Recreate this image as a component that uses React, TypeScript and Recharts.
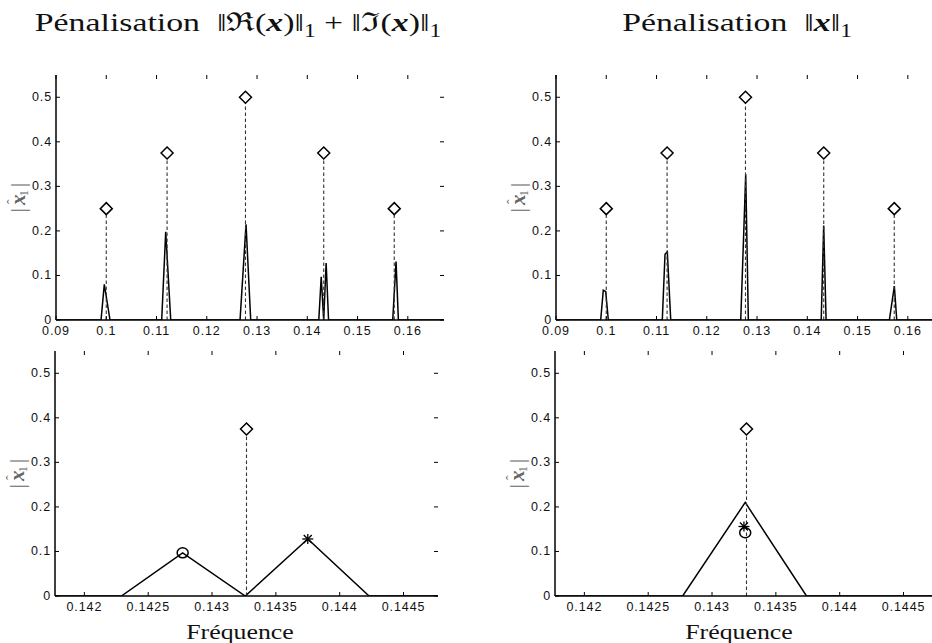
import React from "react";
import { LineChart, Line, XAxis, YAxis } from "recharts";

// true components (diamonds + dashed stems)
const trueFreq = [0.1, 0.1121, 0.1277, 0.14327, 0.1573];
const trueAmp = [0.25, 0.375, 0.5, 0.375, 0.25];

// estimate with ||Re(x)||_1 + ||Im(x)||_1 penalty
const reimFreq = [0.09, 0.09896, 0.09961, 0.10075, 0.11103, 0.11183, 0.11283, 0.12662, 0.12781, 0.12874, 0.14229, 0.14277, 0.14326, 0.14375, 0.14423, 0.157, 0.15766, 0.15812, 0.1672];
const reimAmp = [0, 0, 0.08, 0, 0, 0.198, 0, 0, 0.215, 0, 0, 0.097, 0, 0.128, 0, 0, 0.131, 0, 0];

// estimate with ||x||_1 penalty
const l1Freq = [0.09, 0.09889, 0.09941, 0.09989, 0.10041, 0.11115, 0.11169, 0.11215, 0.11283, 0.12676, 0.12775, 0.12827, 0.14277, 0.14326, 0.14374, 0.15633, 0.15732, 0.1578, 0.1672];
const l1Amp = [0, 0, 0.067, 0.064, 0, 0, 0.1475, 0.153, 0, 0, 0.327, 0, 0, 0.212, 0, 0, 0.076, 0, 0];

// zoom around the 4th component
const reimZoomFreq = [0.14177, 0.14229, 0.14277, 0.14326, 0.14375, 0.14423, 0.14477];
const reimZoomAmp = [0, 0, 0.097, 0, 0.128, 0, 0];
const l1ZoomFreq = [0.14177, 0.14277, 0.14326, 0.14374, 0.14477];
const l1ZoomAmp = [0, 0, 0.21, 0, 0];

const reimCircleFreq = [0.14277];
const reimCircleAmp = [0.097];
const reimStarFreq = [0.14375];
const reimStarAmp = [0.128];
const l1CircleFreq = [0.14326];
const l1CircleAmp = [0.142];
const l1StarFreq = [0.14325];
const l1StarAmp = [0.156];

const wideTicks = [0.09, 0.1, 0.11, 0.12, 0.13, 0.14, 0.15, 0.16];
const zoomTicks = [0.142, 0.1425, 0.143, 0.1435, 0.144, 0.1445];
const ampTicks = [0, 0.1, 0.2, 0.3, 0.4, 0.5];
const wideDomain = [0.09, 0.1672];
const zoomDomain = [0.14177, 0.14477];
const ampDomain = [0, 0.55];

type Pt = { x: number; y: number | null };
const zip = (xs: number[], ys: number[]): Pt[] => xs.map((x, i) => ({ x, y: ys[i] }));
const stemPts = (xs: number[], ys: number[]): Pt[] =>
  xs.flatMap((x, i) => [{ x, y: 0 }, { x, y: ys[i] }, { x, y: null }]);

const tickFont: React.CSSProperties = { fontFamily: "Liberation Sans, Arial, sans-serif", fontSize: 12.5, letterSpacing: 0.9 };
const frame = { stroke: "#000", strokeWidth: 1.5 };

const XTick = (props: any) => {
  const { x, y, payload, plotH } = props;
  return (
    <g>
      <line x1={x} y1={y} x2={x} y2={y - 4} stroke="#000" strokeWidth={1} />
      <line x1={x} y1={y - plotH} x2={x} y2={y - plotH + 4} stroke="#000" strokeWidth={1} />
      <text x={x} y={y + 14.5} textAnchor="middle" fill="#111" style={tickFont}>{payload.value}</text>
    </g>
  );
};

const YTick = (props: any) => {
  const { x, y, payload, plotW } = props;
  return (
    <g>
      <line x1={x} y1={y} x2={x + 4} y2={y} stroke="#000" strokeWidth={1} />
      <line x1={x + plotW} y1={y} x2={x + plotW - 4} y2={y} stroke="#000" strokeWidth={1} />
      <text x={x - 4} y={y + 4} textAnchor="end" fill="#111" style={tickFont}>{payload.value}</text>
    </g>
  );
};

// |x^_1| rotated, like the matlab ylabel
const YLabel = (props: any) => {
  const vb = props.viewBox || {};
  const cx = vb.x + vb.width - 37;
  const cy = vb.y + vb.height / 2;
  return (
    <text x={cx} y={cy + 6} transform={`rotate(-90 ${cx} ${cy})`} textAnchor="middle" fill="#666"
      style={{ fontFamily: "Liberation Serif, serif", fontSize: 21 }}>
      |<tspan dx={3} fontWeight="bold" fontStyle="italic">x</tspan>
      <tspan dx={-9.5} dy={-8} fontSize={14}>ˆ</tspan>
      <tspan dx={3} dy={11} fontSize={13}>1</tspan>
      <tspan dx={3} dy={-3}>|</tspan>
    </text>
  );
};

const diamond = (p: any) => (
  <path key={`d${p.index}`} d={`M${p.cx},${p.cy - 6}L${p.cx + 6},${p.cy}L${p.cx},${p.cy + 6}L${p.cx - 6},${p.cy}Z`}
    fill="#fff" stroke="#000" strokeWidth={1.5} />
);
const circle = (p: any) => (
  <ellipse key={`c${p.index}`} cx={p.cx} cy={p.cy} rx={5.5} ry={5} fill="none" stroke="#000" strokeWidth={1.5} />
);
const star = (p: any) => (
  <g key={`s${p.index}`} stroke="#000" strokeWidth={1.3}>
    <line x1={p.cx - 5.5} y1={p.cy} x2={p.cx + 5.5} y2={p.cy} />
    <line x1={p.cx} y1={p.cy - 5} x2={p.cx} y2={p.cy + 5} />
    <line x1={p.cx - 4} y1={p.cy - 4} x2={p.cx + 4} y2={p.cy + 4} />
    <line x1={p.cx - 4} y1={p.cy + 4} x2={p.cx + 4} y2={p.cy - 4} />
  </g>
);

const W = 960;
const H = 643;
const YW = 40;
const XH = 30;

function Panel({ l, r, t, b, domain, ticks, curve, circles, stars }: any) {
  const inDom = (p: Pt) => p.x >= domain[0] && p.x <= domain[1];
  const dia = zip(trueFreq, trueAmp).filter(inDom);
  const stems = stemPts(dia.map((p) => p.x), dia.map((p) => p.y as number));
  return (
    <div style={{ position: "absolute", left: 0, top: 0 }}>
      <LineChart width={W} height={H} margin={{ top: t, left: l - YW, right: W - r, bottom: H - b - XH }}>
        <XAxis xAxisId="b" type="number" dataKey="x" domain={domain} ticks={ticks} interval={0} allowDataOverflow
          tickLine={false} tickSize={0} tickMargin={0} height={XH} axisLine={frame} tick={<XTick plotH={b - t} />} />
        <XAxis xAxisId="t" orientation="top" type="number" dataKey="x" domain={domain} allowDataOverflow
          height={0} tick={false} tickLine={false} axisLine={frame} />
        <YAxis yAxisId="l" type="number" domain={ampDomain} ticks={ampTicks} interval={0} allowDataOverflow width={YW}
          tickLine={false} tickSize={0} tickMargin={0} axisLine={frame} tick={<YTick plotW={r - l} />} label={<YLabel />} />
        <YAxis yAxisId="r" orientation="right" type="number" domain={ampDomain} allowDataOverflow width={0}
          tick={false} tickLine={false} axisLine={frame} />
        <Line xAxisId="b" yAxisId="l" data={curve} dataKey="y" stroke="#000" strokeWidth={1.5} dot={false}
          isAnimationActive={false} />
        <Line xAxisId="b" yAxisId="l" data={stems} dataKey="y" stroke="#333" strokeWidth={1.1} strokeDasharray="3.5 2.5"
          dot={false} connectNulls={false} isAnimationActive={false} />
        {circles && (
          <Line xAxisId="b" yAxisId="l" data={circles} dataKey="y" stroke="none" dot={circle} isAnimationActive={false} />
        )}
        {stars && (
          <Line xAxisId="b" yAxisId="l" data={stars} dataKey="y" stroke="none" dot={star} isAnimationActive={false} />
        )}
        <Line xAxisId="b" yAxisId="l" data={dia} dataKey="y" stroke="none" dot={diamond} isAnimationActive={false} />
      </LineChart>
    </div>
  );
}

const serif: React.CSSProperties = {
  position: "absolute",
  fontFamily: "\"Liberation Serif\", serif",
  whiteSpace: "nowrap",
  textAlign: "center",
  color: "#111",
  transformOrigin: "center",
};

const bx = <b><i>x</i></b>;
const sub1 = <sub style={{ fontSize: 18 }}>1</sub>;

export default function App() {
  return (
    <div style={{ position: "absolute", left: 0, top: 0, width: 932, height: 643, overflow: "hidden", background: "#fff" }}>
      <Panel l={56} r={444} t={75} b={320} domain={wideDomain} ticks={wideTicks} curve={zip(reimFreq, reimAmp)} />
      <Panel l={556} r={944} t={75} b={320} domain={wideDomain} ticks={wideTicks} curve={zip(l1Freq, l1Amp)} />
      <Panel l={55} r={438} t={351} b={596} domain={zoomDomain} ticks={zoomTicks} curve={zip(reimZoomFreq, reimZoomAmp)}
        circles={zip(reimCircleFreq, reimCircleAmp)} stars={zip(reimStarFreq, reimStarAmp)} />
      <Panel l={555} r={938} t={351} b={596} domain={zoomDomain} ticks={zoomTicks} curve={zip(l1ZoomFreq, l1ZoomAmp)}
        circles={zip(l1CircleFreq, l1CircleAmp)} stars={zip(l1StarFreq, l1StarAmp)} />

      <div style={{ ...serif, left: 238 - 300, width: 600, top: 8, fontSize: 26, lineHeight: "30px", transform: "scaleX(1.3)" }}>
        Pénalisation&nbsp;&nbsp;‖ℜ({bx})‖{sub1} + ‖ℑ({bx})‖{sub1}
      </div>
      <div style={{ ...serif, left: 737 - 300, width: 600, top: 8, fontSize: 26, lineHeight: "30px", transform: "scaleX(1.3)" }}>
        Pénalisation&nbsp;&nbsp;‖{bx}‖{sub1}
      </div>
      <div style={{ ...serif, left: 240 - 100, width: 200, top: 620, fontSize: 21, lineHeight: "24px", transform: "scaleX(1.23)" }}>Fréquence</div>
      <div style={{ ...serif, left: 739 - 100, width: 200, top: 620, fontSize: 21, lineHeight: "24px", transform: "scaleX(1.23)" }}>Fréquence</div>
    </div>
  );
}
